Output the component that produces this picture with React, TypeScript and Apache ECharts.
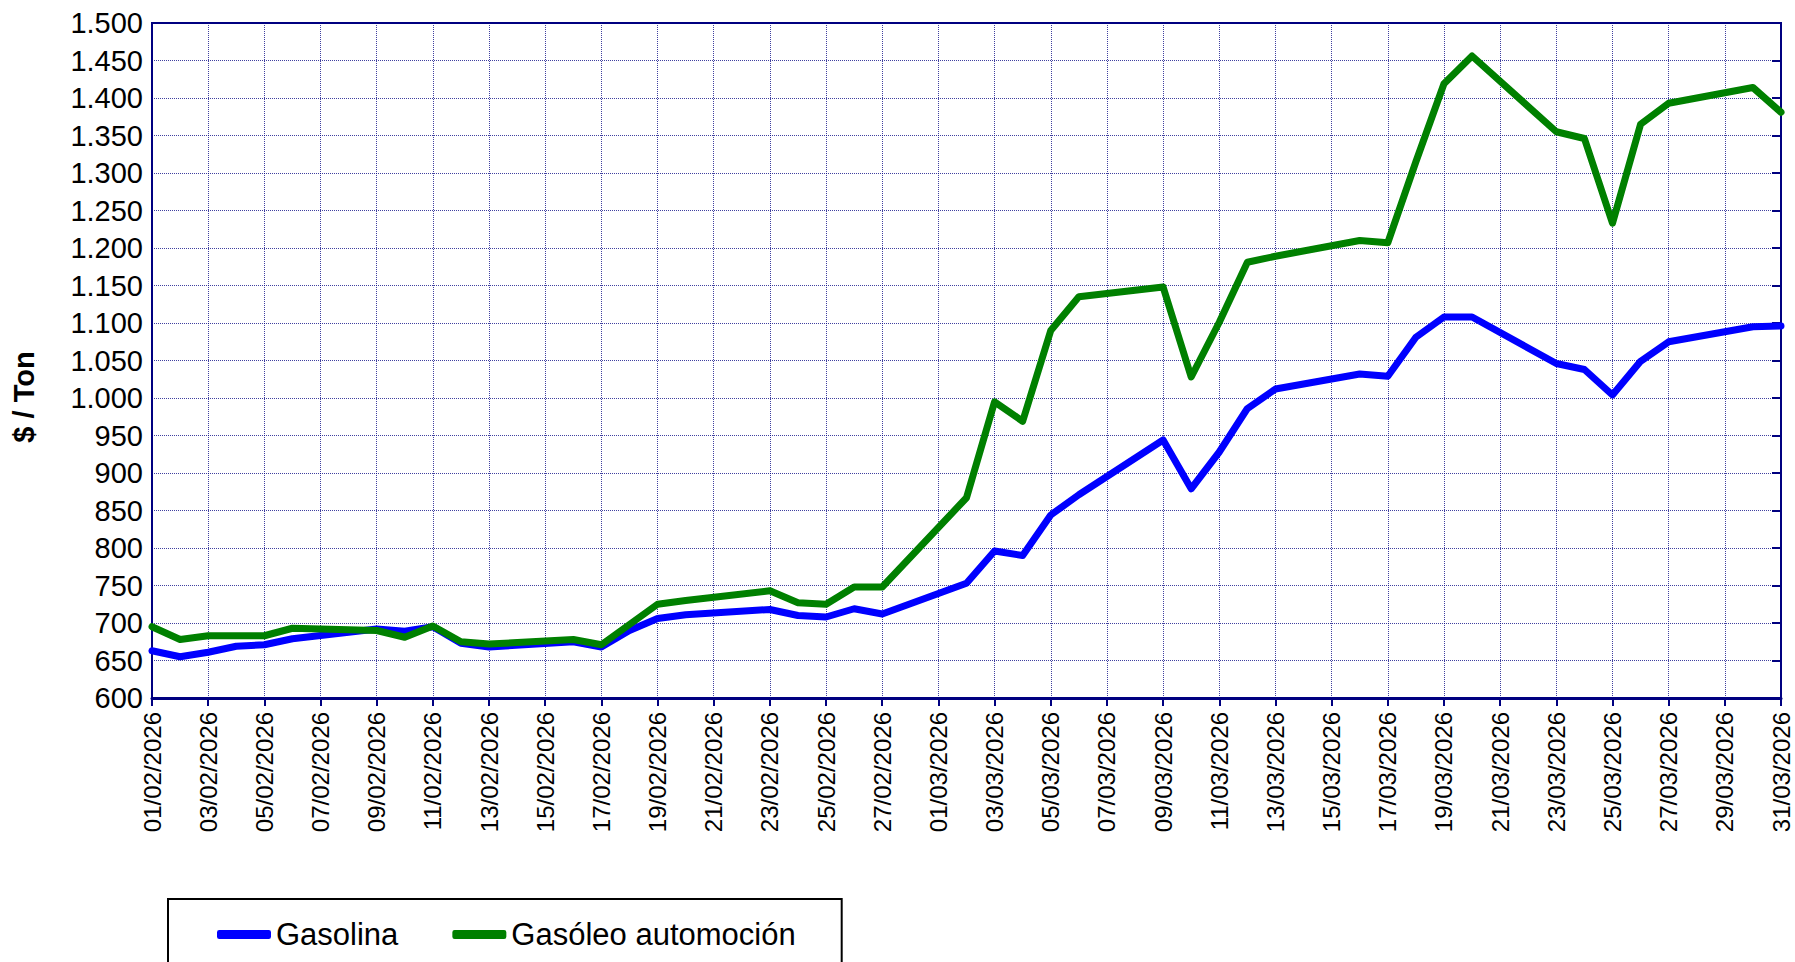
import React, { useEffect, useRef } from "react";
import * as echarts from "echarts";

// Categories: every day of February and March 2026
const febDays = 28;
const marDays = 31;
const categories: string[] = [];
for (let d = 1; d <= febDays; d++) categories.push(`${String(d).padStart(2, "0")}/02/2026`);
for (let d = 1; d <= marDays; d++) categories.push(`${String(d).padStart(2, "0")}/03/2026`);

// Gasolina ($/Ton), null = no quote (weekend)
const gasolina: (number | null)[] = [
  663, 655, 661, 669, 671, 679, null, null, 692, 689, 695, 673, 668, null, null,
  675, 668, 690, 706, 711, null, null, 718, 710, 708, 719, 712, null,
  null, 753, 796, 790, 844, 871, null, null, 944, 879, 928, 986, 1012, null, null,
  1032, 1029, 1081, 1108, 1108, null, null, 1046, 1038, 1004, 1049, 1075, null, null,
  1095, 1096,
];

// Gasóleo automoción ($/Ton)
const gasoleo: (number | null)[] = [
  695, 678, 683, 683, 683, 693, null, null, 690, 681, 696, 675, 672, null, null,
  678, 671, 698, 725, 730, null, null, 743, 727, 725, 748, 748, null,
  null, 867, 995, 969, 1090, 1135, null, null, 1148, 1028, 1101, 1181, 1189, null, null,
  1210, 1207, 1315, 1419, 1456, null, null, 1355, 1346, 1233, 1365, 1393, null, null,
  1414, 1381,
];

const seriesNames = ["Gasolina", "Gasóleo automoción"];
const yMin = 600;
const yMax = 1500;
const yStep = 50;

const NAVY = "#000080";
const FONT = "Liberation Sans, Arial, sans-serif";

function fmt(v: number): string {
  if (v >= 1000) return `${Math.floor(v / 1000)}.${String(v % 1000).padStart(3, "0")}`;
  return String(v);
}

export default function App() {
  const ref = useRef<HTMLDivElement>(null);
  useEffect(() => {
    document.body.style.margin = "0";
    if (!ref.current) return;
    const chart = echarts.init(ref.current, null, { renderer: "svg" });
    const gridLine = { show: true, lineStyle: { color: NAVY, width: 1, type: [1, 1] as any, opacity: 0.75 } };
    chart.setOption({
      animation: false,
      backgroundColor: "#ffffff",
      textStyle: { fontFamily: FONT },
      grid: {
        left: 152,
        right: 14,
        top: 23,
        bottom: 264,
        show: true,
        borderColor: NAVY,
        borderWidth: 2,
        backgroundColor: "transparent",
      },
      legend: {
        left: 168,
        top: 899,
        orient: "horizontal",
        icon: "roundRect",
        itemWidth: 54,
        itemHeight: 9,
        itemGap: 54,
        padding: [20, 46, 80, 49],
        borderColor: "#000000",
        borderWidth: 2,
        textStyle: { fontSize: 31, color: "#000000", fontFamily: FONT },
        data: seriesNames,
      },
      xAxis: {
        type: "category",
        data: categories,
        boundaryGap: false,
        axisLine: { show: true, lineStyle: { color: NAVY, width: 3 } },
        axisTick: { show: true, interval: 1, length: 8, lineStyle: { color: NAVY, width: 2 } },
        axisLabel: {
          interval: 1,
          rotate: 90,
          margin: 14,
          fontSize: 24,
          color: "#000000",
          fontFamily: FONT,
        },
        splitLine: { ...gridLine, interval: 1 },
      },
      yAxis: [
        {
          type: "value",
          min: yMin,
          max: yMax,
          interval: yStep,
          axisLine: { show: true, lineStyle: { color: NAVY, width: 2 } },
          axisTick: { show: false },
          axisLabel: { margin: 9, fontSize: 29, color: "#000000", fontFamily: FONT, formatter: fmt },
          splitLine: gridLine,
        },
        {
          type: "value",
          position: "right",
          min: yMin,
          max: yMax,
          interval: yStep,
          axisLine: { show: true, lineStyle: { color: NAVY, width: 2 } },
          axisTick: { show: true, inside: true, length: 9, lineStyle: { color: NAVY, width: 2 } },
          axisLabel: { show: false },
          splitLine: { show: false },
        },
      ],
      graphic: [
        {
          type: "text",
          x: 24,
          y: 397,
          rotation: Math.PI / 2,
          style: {
            text: "$ / Ton",
            align: "center",
            verticalAlign: "middle",
            fontSize: 29,
            fontWeight: "bold",
            fontFamily: FONT,
            fill: "#000000",
          },
        },
      ],
      series: [
        {
          name: seriesNames[0],
          type: "line",
          data: gasolina,
          connectNulls: true,
          symbol: "none",
          lineStyle: { color: "#0000FF", width: 7, join: "round", cap: "round" },
          itemStyle: { color: "#0000FF" },
        },
        {
          name: seriesNames[1],
          type: "line",
          data: gasoleo,
          connectNulls: true,
          symbol: "none",
          lineStyle: { color: "#008000", width: 7, join: "round", cap: "round" },
          itemStyle: { color: "#008000" },
        },
      ],
    });
    return () => chart.dispose();
  }, []);
  return <div ref={ref} style={{ width: 1795, height: 962 }} />;
}
